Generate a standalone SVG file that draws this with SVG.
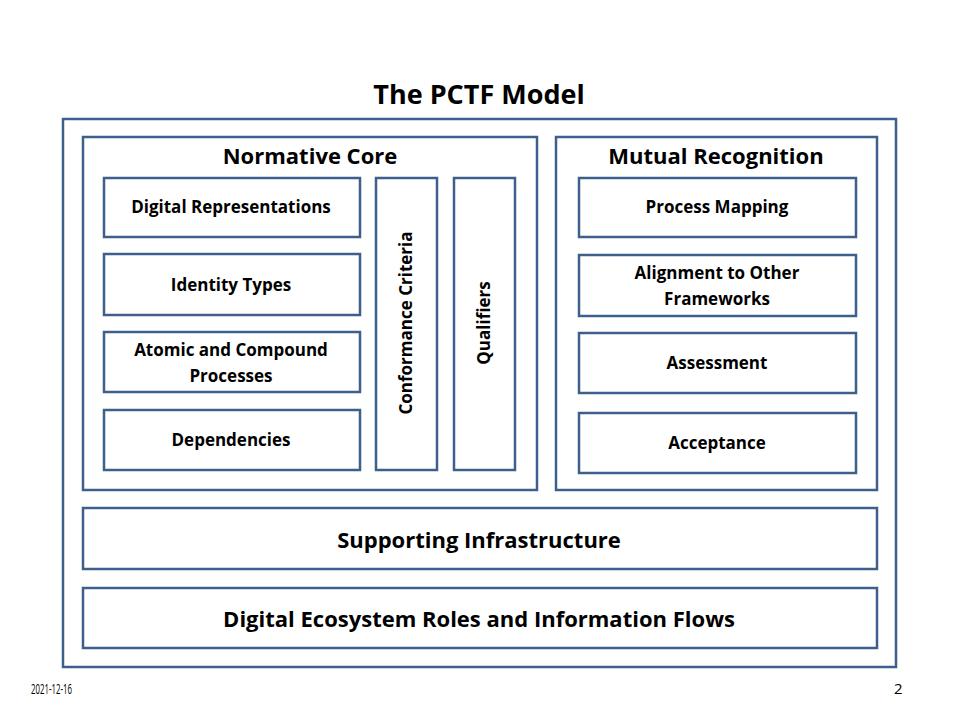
<svg xmlns="http://www.w3.org/2000/svg" width="960" height="720" viewBox="0 0 960 720">
<style>
rect{fill:#fff;stroke:#3d5f8c;stroke-width:2.5}
text{font-family:"Open Sans","Liberation Sans",sans-serif;font-weight:bold;fill:#000;text-anchor:middle;dominant-baseline:central}
.t{font-size:27px}
.h{font-size:22px}
.b{font-size:17px}
.f{font-size:15px;font-weight:normal;text-anchor:start}
</style>
<text class="t" x="479" y="93">The PCTF Model</text>
<g id="outer"><rect x="63" y="119" width="833" height="548"/></g>
<g id="normative-core">
<rect x="83" y="137" width="454" height="353"/>
<text class="h" x="310" y="154.5">Normative Core</text>
</g>
<g id="mutual-recognition">
<rect x="556" y="137" width="321" height="353"/>
<text class="h" x="716" y="154.5">Mutual Recognition</text>
</g>
<g id="digital-representations"><rect x="104" y="178" width="256" height="59"/><text class="b" x="231" y="206.5">Digital Representations</text></g>
<g id="identity-types"><rect x="104" y="254" width="256" height="61"/><text class="b" x="231" y="284.5">Identity Types</text></g>
<g id="atomic"><rect x="104" y="332" width="256" height="60"/><text class="b" x="231" y="349.5">Atomic and Compound</text><text class="b" x="231" y="375.5">Processes</text></g>
<g id="dependencies"><rect x="104" y="410" width="256" height="60"/><text class="b" x="231" y="439.5">Dependencies</text></g>
<g id="conformance"><rect x="376" y="178" width="61" height="292"/><text class="b" transform="translate(405.5,323) rotate(-90)">Conformance Criteria</text></g>
<g id="qualifiers"><rect x="454" y="178" width="61" height="292"/><text class="b" transform="translate(483.5,323) rotate(-90)">Qualifiers</text></g>
<g id="process-mapping"><rect x="579" y="178" width="277" height="59"/><text class="b" x="717" y="206.5">Process Mapping</text></g>
<g id="alignment"><rect x="579" y="255" width="277" height="61"/><text class="b" x="717" y="272.5">Alignment to Other</text><text class="b" x="717" y="298.5">Frameworks</text></g>
<g id="assessment"><rect x="579" y="333" width="277" height="60"/><text class="b" x="717" y="362.5">Assessment</text></g>
<g id="acceptance"><rect x="579" y="413" width="277" height="60"/><text class="b" x="717" y="442.5">Acceptance</text></g>
<g id="supporting"><rect x="83" y="508" width="794" height="61"/><text class="h" x="479" y="538.5">Supporting Infrastructure</text></g>
<g id="ecosystem"><rect x="83" y="588" width="794" height="60"/><text class="h" x="479" y="617.5">Digital Ecosystem Roles and Information Flows</text></g>
<g id="connectors"/>
<text class="f" x="31" y="687.5" textLength="41" lengthAdjust="spacingAndGlyphs">2021-12-16</text>
<text class="f" x="894" y="687.5">2</text>
</svg>
